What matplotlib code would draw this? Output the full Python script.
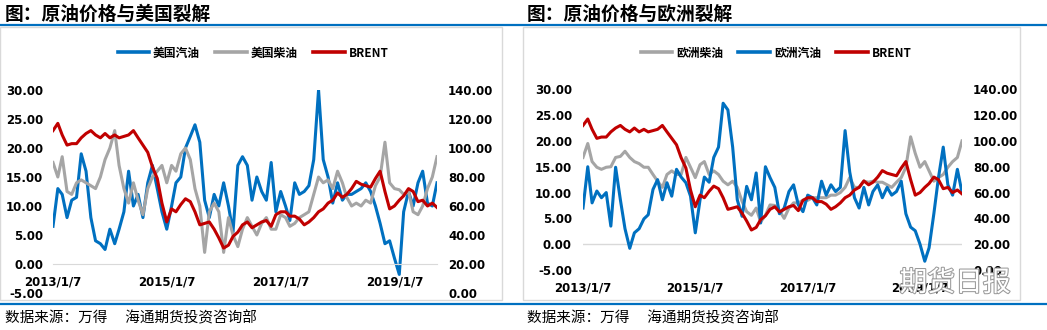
import matplotlib.pyplot as plt
import matplotlib.patheffects as pe
from matplotlib.patches import Rectangle
from matplotlib.lines import Line2D
import pandas as pd

plt.rcParams['font.family'] = ['Noto Sans CJK SC', 'DejaVu Sans']

# monthly points, 2013/1/7 .. 2019/10
dates = pd.date_range('2013-01-07', periods=82, freq=pd.DateOffset(months=1))

brent = [112, 117, 109, 102, 103, 103, 107, 110, 112, 109, 107, 110,
         107, 109, 107, 108, 109, 112, 107, 102, 97, 87, 79, 62,
         49, 58, 56, 61, 65, 63, 56, 47, 48, 49, 44, 38,
         31, 33, 39, 42, 47, 49, 45, 47, 49, 50, 46, 54,
         56, 56, 53, 53, 51, 47, 49, 52, 56, 58, 62, 64,
         69, 66, 68, 72, 77, 75, 74, 73, 79, 84, 70, 58,
         60, 64, 67, 72, 70, 63, 64, 60, 62, 59]

us_gasoline = [6.5, 13, 12, 8, 11, 11.5, 19, 16, 8, 4, 3.5, 2.5,
               6, 3.5, 6, 9, 16, 10, 12, 8, 14, 17, 13, 9,
               6, 10, 14, 15, 20, 22, 24, 21, 11, 8, 12, 10,
               14, 10, 5.5, 17, 18.5, 17, 11, 15, 12.5, 11, 17.5, 9,
               12.5, 10, 7.5, 14, 12, 12.5, 13.5, 18, 30, 18, 15, 10.5,
               14, 11, 12, 12, 12.5, 13, 14, 12.5, 10, 7, 3.5, 4,
               1, -1.8, 9, 12.5, 10, 14, 16, 10.5, 10, 14]

us_diesel = [17.5, 15, 18.5, 12.5, 12, 14, 14.5, 14, 13.5, 13, 15, 18,
             20, 23, 17, 13, 10.5, 14, 11, 8.5, 13, 15, 16, 17,
             14, 17, 16, 19, 20, 18, 13, 10, 2, 9, 10.5, 9,
             2, 8, 5, 3, 6, 8, 6.5, 5, 7, 8, 6, 6,
             8.5, 8, 6.5, 7, 8, 8.5, 9, 12, 15, 14, 14.5, 13,
             16, 14, 11.5, 10, 10.5, 10, 11, 10.5, 13.5, 15, 21, 14,
             13, 12.8, 12, 12.5, 9, 8.5, 10, 13, 15, 18.5]

eu_diesel = [16.8, 19.5, 16, 14.9, 14.5, 14.9, 15, 16.8, 17, 18, 16.8, 16,
             15.6, 14.9, 14.9, 13.5, 12.2, 11, 13.5, 14.2, 13.5, 13.5, 16.8, 14.9,
             12.9, 15.4, 16, 13.5, 14.2, 13.5, 12.2, 11.5, 12.2, 11, 8.3, 6.3,
             5.6, 7, 4.3, 5.6, 7.6, 7.5, 6.5, 5, 7, 8, 8, 8.5,
             8.5, 9, 9, 9, 9, 9.5, 9.5, 10, 11, 12.9, 11, 11,
             12.2, 12, 12.2, 12, 12, 11.5, 11, 12, 12.9, 14.9, 20.8, 17.6,
             14.9, 16, 14.2, 12.2, 12.9, 13.5, 14.9, 16, 16.8, 20]

eu_gasoline = [7, 15, 8, 10.3, 9, 10, 3.5, 14.9, 8.6, 3, -0.8, 2.2,
               3, 4.9, 5.7, 10.6, 12.5, 8.6, 11.9, 9.3, 14.5, 13, 11.9, 9.3,
               2.2, 8.6, 13, 12, 16.8, 18.8, 27.3, 26, 18.8, 8.6, 5.4, 11.2,
               8.6, 13.8, 4.1, 15, 12.9, 11, 5.9, 7, 10.2, 11.5, 7.6, 6.3,
               9.5, 9, 7.6, 12.2, 9.5, 11.5, 10.2, 11, 22, 14, 9, 7,
               11, 7.6, 10.2, 11.5, 9, 11, 9.5, 10.2, 12.2, 5.9, 3.3, 2.6,
               0, -3.3, -0.7, 5.9, 12.9, 18.8, 11.5, 9.5, 14.5, 10]

tick_dates = pd.to_datetime(['2013-01-07', '2015-01-07', '2017-01-07', '2019-01-07'])
tick_labels = ['%d/%d/%d' % (d.year, d.month, d.day) for d in tick_dates]

BLUE = '#0070C0'
GRAY = '#A5A5A5'
RED = '#C00000'
W, H = 1047, 330
tick_font = dict(family='DejaVu Sans', weight='bold', size=8.5)

fig = plt.figure(figsize=(W / 100, H / 100), dpi=100)


def panel(rect, series, legend_x, axis_at_zero, lpad, rpad):
    ax = fig.add_axes(rect)
    ax2 = ax.twinx()
    for a in (ax, ax2):
        for s in a.spines.values():
            s.set_visible(False)
    ax.patch.set_visible(False)
    # spine position first: moving it resets the tick labels
    if axis_at_zero:
        ax.spines['bottom'].set_visible(True)
        ax.spines['bottom'].set_position(('data', 0))
        ax.spines['bottom'].set_color('#D9D9D9')
    else:
        ax.axhline(0, color='#D9D9D9', lw=1, zorder=0)
    for vals, col, name in series:
        ax.plot(dates, vals, color=col, lw=2.2, label=name)
    ax2.plot(dates, brent, color=RED, lw=2.2, label='BRENT')
    ax.set_xlim(dates[0], dates[-1])
    ax.set_ylim(-5, 30)
    ax2.set_ylim(0, 140)
    ax.set_yticks(range(-5, 31, 5))
    ax.set_yticklabels(['%.2f' % v for v in range(-5, 31, 5)], fontdict=tick_font)
    ax2.set_yticks(range(0, 141, 20))
    ax2.set_yticklabels(['%.2f' % v for v in range(0, 141, 20)], fontdict=tick_font)
    ax.set_xticks(tick_dates)
    ax.set_xticklabels(tick_labels, fontdict=tick_font)
    ax.tick_params(axis='x', length=0, pad=8)
    ax.tick_params(axis='y', length=0, pad=lpad)
    ax2.tick_params(axis='y', length=0, pad=rpad)
    handles = [Line2D([], [], color=c, lw=2.6) for _, c, _ in series] + [Line2D([], [], color=RED, lw=2.6)]
    names = [n for _, _, n in series] + ['BRENT']
    fig.legend(handles, names, loc='center', bbox_to_anchor=(legend_x, 0.839), ncol=3,
               frameon=False, handlelength=2.7, handletextpad=0.3, columnspacing=1.3,
               prop=dict(family=['Noto Sans CJK SC', 'DejaVu Sans'], weight='bold', size=8.5))
    return ax, ax2


panel([53 / W, 37 / H, 384 / W, 203 / H],
      [(us_gasoline, BLUE, '美国汽油'), (us_diesel, GRAY, '美国柴油')],
      253 / W, True, 7, 8)
panel([583 / W, 60 / H, 379 / W, 180.7 / H],
      [(eu_diesel, GRAY, '欧洲柴油'), (eu_gasoline, BLUE, '欧洲汽油')],
      776 / W, False, 8, 8)

# frames, header and footer lines
for x0, x1 in [(0, 502), (523, 1020)]:
    fig.add_artist(Rectangle((x0 / W, 30 / H), (x1 - x0) / W, 273 / H, transform=fig.transFigure,
                             fill=False, edgecolor='#D9D9D9', lw=1))
for y in (1 - 25 / H, 1 - 304 / H):
    fig.add_artist(Line2D([0, 1], [y, y], transform=fig.transFigure, color=BLUE, lw=1.6))

fig.text(5 / W, 1 - 14 / H, '图：原油价格与美国裂解', fontsize=13.5, weight='bold', va='center')
fig.text(527 / W, 1 - 14 / H, '图：原油价格与欧洲裂解', fontsize=13.5, weight='bold', va='center')
fig.text(5 / W, 1 - 318 / H, '数据来源：万得　 海通期货投资咨询部', fontsize=10.5, va='center')
fig.text(527 / W, 1 - 318 / H, '数据来源：万得　 海通期货投资咨询部', fontsize=10.5, va='center')

# watermark
fig.text(955 / W, 1 - 283 / H, '期货日报', fontsize=20, ha='center', va='center', color='white',
         path_effects=[pe.withStroke(linewidth=1.5, foreground='#9A9A9A')])

fig.savefig('out.png', dpi=100)
